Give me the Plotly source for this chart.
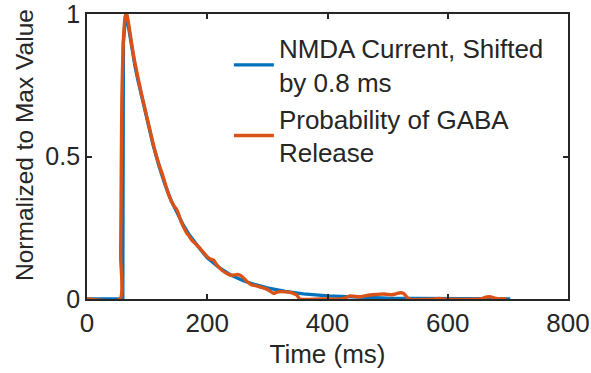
import plotly.graph_objects as go

# NMDA current (shifted by 0.8 ms), normalized
nmda_t = [0, 59.5, 60.5, 62, 64, 65.5, 68, 70, 75, 80, 85, 90, 95, 100, 105, 110, 120, 130,
          140, 150, 160, 170, 180, 190, 200, 220, 240, 260, 280, 300, 330, 360, 400, 450,
          500, 550, 600, 650, 704]
nmda_v = [0, 0, 0.9, 0.96, 0.99, 1.0, 0.965, 0.94, 0.87, 0.815, 0.765, 0.72, 0.675, 0.63,
          0.58, 0.54, 0.465, 0.40, 0.345, 0.30, 0.26, 0.225, 0.195, 0.17, 0.145, 0.11, 0.083,
          0.064, 0.05, 0.039, 0.027, 0.018, 0.011, 0.006, 0.003, 0.0015, 0.0008, 0.0004, 0.0002]

# Probability of GABA release, normalized
gaba_t = [0, 55, 56, 57, 58, 60, 62, 64, 66, 68, 70, 75, 80, 85, 90, 95, 100, 105, 110, 115,
          120, 125, 130, 135, 140, 145, 148, 152, 155, 160, 165, 170, 175, 180, 188, 195, 200,
          205, 210, 215, 220, 225, 232, 238, 245, 250, 256, 262, 268, 274, 280, 288, 296, 303,
          310, 316, 321, 330, 338, 344, 349, 354, 388, 421, 430, 437, 446, 454, 462, 471, 482,
          493, 500, 507, 514, 521, 526, 530, 535, 580, 585, 590, 655, 662, 670, 678, 687, 698]
gaba_v = [0, 0, 0.15, 0.45, 0.7, 0.88, 0.96, 0.995, 1.0, 0.98, 0.955, 0.885, 0.825, 0.775,
          0.725, 0.68, 0.635, 0.59, 0.545, 0.505, 0.47, 0.44, 0.405, 0.37, 0.345, 0.325, 0.318,
          0.30, 0.28, 0.255, 0.235, 0.22, 0.205, 0.195, 0.178, 0.16, 0.148, 0.14, 0.137, 0.122,
          0.11, 0.1, 0.09, 0.084, 0.084, 0.086, 0.082, 0.07, 0.058, 0.049, 0.047, 0.042, 0.037,
          0.03, 0.02, 0.024, 0.026, 0.025, 0.023, 0.019, 0.014, 0.0, 0.0, 0.0, 0.004, 0.011,
          0.009, 0.008, 0.011, 0.014, 0.016, 0.0175, 0.016, 0.015, 0.018, 0.022, 0.02, 0.012,
          0.0, 0.0, 0.002, 0.0, 0.0, 0.006, 0.008, 0.003, 0.0, 0.0]

x_ticks = [0, 200, 400, 600, 800]
y_ticks = [0, 0.5, 1]
y_tick_labels = ["0", "0.5", "1"]

TXT = "#262626"
FONT = "Liberation Sans, Arial, sans-serif"

fig = go.Figure()
fig.add_trace(go.Scatter(x=nmda_t, y=nmda_v, mode="lines",
                         name="NMDA Current, Shifted<br>by 0.8 ms",
                         line=dict(color="#0072BD", width=3.4)))
fig.add_trace(go.Scatter(x=gaba_t, y=gaba_v, mode="lines",
                         name="Probability of GABA<br>Release",
                         line=dict(color="#D95319", width=3.4, shape="spline", smoothing=0.6)))

axis_common = dict(showline=True, linecolor=TXT, linewidth=1.8, mirror="ticks",
                   ticks="inside", ticklen=5, tickwidth=1.5, tickcolor=TXT,
                   showgrid=False, zeroline=False, ticklabeloverflow="allow",
                   automargin=False)

fig.update_layout(
    width=591, height=373,
    margin=dict(l=87, r=23, t=14, b=74, autoexpand=False),
    paper_bgcolor="white", plot_bgcolor="white",
    font=dict(family=FONT, size=26, color=TXT),
    xaxis=dict(range=[0, 800], tickvals=x_ticks,
               tickfont=dict(family=FONT, size=26, color=TXT),
               title=dict(text="Time (ms)", font=dict(family=FONT, size=26, color=TXT), standoff=8),
               **axis_common),
    yaxis=dict(range=[0, 1], tickvals=y_ticks, ticktext=y_tick_labels,
               tickfont=dict(family=FONT, size=25, color=TXT),
               **axis_common),
    legend=dict(x=0.295, y=0.963, xanchor="left", yanchor="top",
                bgcolor="rgba(0,0,0,0)", font=dict(family=FONT, size=26, color=TXT),
                tracegroupgap=0, itemwidth=40),
    showlegend=True,
    annotations=[dict(text="Normalized to Max Value", textangle=-90,
                      xref="paper", yref="paper",
                      x=(24 - 87) / 481, y=(299 - 145) / 285,
                      xanchor="center", yanchor="middle", showarrow=False,
                      font=dict(family=FONT, size=24.5, color=TXT))],
)

fig.write_html("out.html")
